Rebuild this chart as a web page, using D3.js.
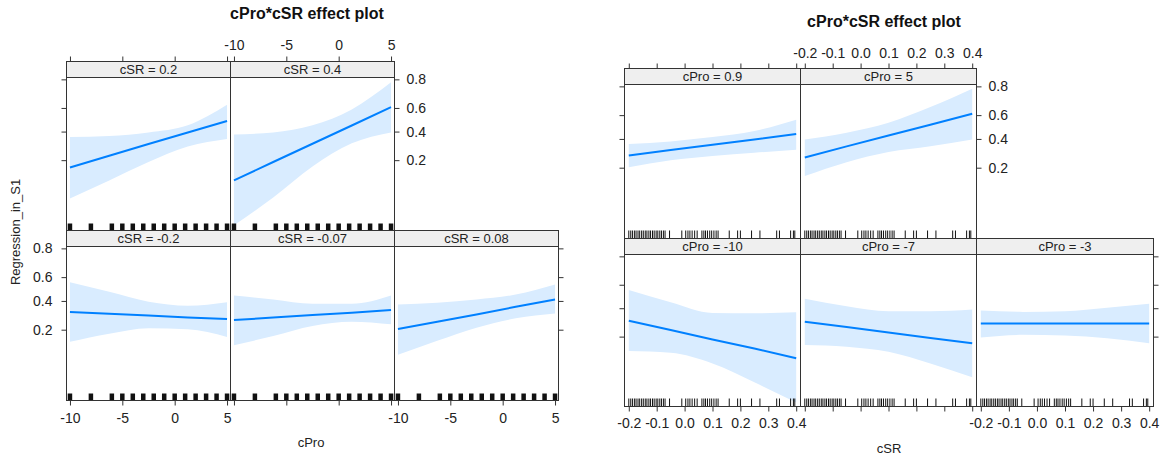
<!DOCTYPE html>
<html lang="en">
<head>
<meta charset="UTF-8">
<title>cPro*cSR effect plots</title>
<script src="https://cdn.jsdelivr.net/npm/d3@7"></script>
<style>
  body { margin: 0; background: #fff; }
  svg { display: block; font-family: "Liberation Sans", Arial, sans-serif; }
  .tick text { font-size: 14px; fill: #222; }
  .tick line { stroke: #333; }
  .strip text { font-size: 13px; fill: #222; }
</style>
</head>
<body>
<svg id="chart" width="1171" height="460"></svg>
<script>
const cProGrid = [-10, -6.25, -2.5, 1.25, 5];
const cSRGrid = [-0.2, -0.05, 0.1, 0.25, 0.4];

// left plot: x = cPro, one panel per cSR level
const cSRLevels = ["cSR = 0.2", "cSR = 0.4", "cSR = -0.2", "cSR = -0.07", "cSR = 0.08"];
const fitByCSR = [
  [0.163, 0.225, 0.303, 0.393, 0.490],
  [0.111, 0.190, 0.305, 0.451, 0.607],
  [0.313, 0.301, 0.289, 0.275, 0.264],
  [0.258, 0.274, 0.292, 0.309, 0.328],
  [0.204, 0.247, 0.296, 0.353, 0.412]
];
const lowerByCSR = [
  [0.063, 0.111, 0.190, 0.285, 0.340],
  [0.026, 0.065, 0.168, 0.308, 0.393],
  [0.142, 0.179, 0.208, 0.202, 0.163],
  [0.128, 0.168, 0.221, 0.247, 0.231],
  [0.096, 0.146, 0.211, 0.269, 0.303]
];
const upperByCSR = [
  [0.356, 0.364, 0.393, 0.453, 0.626],
  [0.377, 0.393, 0.453, 0.588, 0.783],
  [0.557, 0.476, 0.393, 0.361, 0.390],
  [0.445, 0.412, 0.377, 0.377, 0.445],
  [0.371, 0.385, 0.412, 0.453, 0.538]
];

// right plot: x = cSR, one panel per cPro level
const cProLevels = ["cPro = 0.9", "cPro = 5", "cPro = -10", "cPro = -7", "cPro = -3"];
const fitByCPro = [
  [0.275, 0.313, 0.353, 0.396, 0.441],
  [0.262, 0.341, 0.428, 0.520, 0.612],
  [0.302, 0.239, 0.185, 0.142, 0.106],
  [0.295, 0.258, 0.224, 0.193, 0.166],
  [0.283, 0.283, 0.283, 0.283, 0.283]
];
const lowerByCPro = [
  [0.203, 0.243, 0.271, 0.294, 0.316],
  [0.158, 0.232, 0.299, 0.341, 0.396],
  [0.132, 0.125, 0.090, 0.049, 0.025],
  [0.158, 0.150, 0.129, 0.090, 0.058],
  [0.195, 0.210, 0.206, 0.191, 0.166]
];
const upperByCPro = [
  [0.359, 0.380, 0.415, 0.466, 0.562],
  [0.396, 0.452, 0.537, 0.664, 0.787],
  [0.556, 0.451, 0.362, 0.359, 0.367],
  [0.480, 0.417, 0.375, 0.375, 0.389],
  [0.381, 0.370, 0.375, 0.403, 0.437]
];

// ticks and rugs
const probTicks = [0.2, 0.4, 0.6, 0.8];
const cProTicks = [-10, -5, 0, 5];
const cSRTicks = [-0.2, -0.1, 0.0, 0.1, 0.2, 0.3, 0.4];
const cProRug = [-10, -8, -6, -5, -4, -3, -2, -1, 0, 1, 2, 3, 4, 5];
const cSRRug = [-0.2, -0.193, -0.187, -0.18, -0.174, -0.167, -0.161, -0.154, -0.148, -0.141,
  -0.135, -0.128, -0.122, -0.115, -0.109, -0.102, -0.096, -0.089, -0.083, -0.076, -0.07,
  -0.054, -0.01, 0.004, 0.012, 0.019, 0.027, 0.036, 0.045, 0.062, 0.069, 0.075, 0.082,
  0.09, 0.097, 0.105, 0.113, 0.12, 0.16, 0.19, 0.2, 0.24, 0.27, 0.33, 0.34, 0.38, 0.39, 0.395];

const svg = d3.select("#chart");
const logit = p => Math.log(p / (1 - p));
const lineColor = "#0080ff";
const bandColor = "#d9ecff";
const frameColor = "#333";

// row 0 holds two panels, row 1 holds three
const slots = [[0, 0], [1, 0], [0, 1], [1, 1], [2, 1]];

function effectPlot(opt) {
    const g = svg.append("g");
    const yBase = d3.scaleLinear().domain([-3.8, 1.45]);
    const xBase = d3.scaleLinear().domain(opt.xDomain);

    opt.strips.forEach((label, i) => {
        const [c, r] = slots[i];
        const x0 = opt.cols[c], x1 = opt.cols[c + 1];
        const row = opt.rows[r];
        const xs = xBase.copy().range([x0, x1]);
        const ys = yBase.copy().range([row.bottom, row.top]);
        const p = g.append("g");

        const pts = opt.grid.map((v, k) => ({
            x: v, fit: opt.fit[i][k], lo: opt.lower[i][k], hi: opt.upper[i][k]
        }));

        // confidence band
        p.append("path").datum(pts)
            .attr("fill", bandColor)
            .attr("d", d3.area()
                .curve(d3.curveMonotoneX)
                .x(d => xs(d.x))
                .y0(d => ys(logit(d.lo)))
                .y1(d => ys(logit(d.hi))));

        // fitted line
        p.append("path").datum(pts)
            .attr("fill", "none")
            .attr("stroke", lineColor)
            .attr("stroke-width", 2)
            .attr("d", d3.line().x(d => xs(d.x)).y(d => ys(logit(d.fit))));

        // rug
        p.append("g").selectAll("line").data(opt.rug).join("line")
            .attr("x1", d => xs(d)).attr("x2", d => xs(d))
            .attr("y1", row.bottom).attr("y2", row.bottom - opt.rugLen)
            .attr("stroke", "#111")
            .attr("stroke-width", opt.rugWidth);

        // strip
        const strip = p.append("g").attr("class", "strip");
        strip.append("rect")
            .attr("x", x0).attr("y", row.strip)
            .attr("width", x1 - x0).attr("height", row.top - row.strip)
            .attr("fill", "#efefef").attr("stroke", frameColor);
        strip.append("text")
            .attr("x", (x0 + x1) / 2)
            .attr("y", (row.strip + row.top) / 2 + 4.6)
            .attr("text-anchor", "middle")
            .text(label);

        // panel frame
        p.append("rect")
            .attr("x", x0).attr("y", row.top)
            .attr("width", x1 - x0).attr("height", row.bottom - row.top)
            .attr("fill", "none").attr("stroke", frameColor);

        // axes
        const yTicks = probTicks.map(logit);
        const yFmt = d => (1 / (1 + Math.exp(-d))).toFixed(1);

        if (r === 0) {
            p.append("g").attr("transform", `translate(0,${row.strip})`)
                .call(d3.axisTop(xs).tickValues(opt.xTicks).tickSize(5)
                    .tickPadding(opt.padTop).tickFormat(c === 1 ? opt.xFmt : ""))
                .call(a => a.select(".domain").remove());
        } else {
            p.append("g").attr("transform", `translate(0,${row.bottom})`)
                .call(d3.axisBottom(xs).tickValues(opt.xTicks).tickSize(5)
                    .tickPadding(opt.padBottom).tickFormat(c === 1 ? "" : opt.xFmt))
                .call(a => a.select(".domain").remove());
        }
        if (c === 0) {
            p.append("g").attr("transform", `translate(${x0},0)`)
                .call(d3.axisLeft(ys).tickValues(yTicks).tickSize(5).tickPadding(9)
                    .tickFormat(r === 1 && opt.leftLabels ? yFmt : ""))
                .call(a => a.select(".domain").remove());
        }
        if ((r === 0 && c === 1) || (r === 1 && c === 2)) {
            p.append("g").attr("transform", `translate(${x1},0)`)
                .call(d3.axisRight(ys).tickValues(yTicks).tickSize(5).tickPadding(7)
                    .tickFormat(r === 0 ? yFmt : ""))
                .call(a => a.select(".domain").remove());
        }
    });

    // titles
    g.append("text")
        .attr("x", opt.titlePos[0]).attr("y", opt.titlePos[1])
        .attr("text-anchor", "middle")
        .attr("font-size", 16).attr("font-weight", "bold").attr("fill", "#111")
        .text("cPro*cSR effect plot");
    g.append("text")
        .attr("x", opt.xTitlePos[0]).attr("y", opt.xTitlePos[1])
        .attr("text-anchor", "middle")
        .attr("font-size", 13).attr("fill", "#222")
        .text(opt.xTitle);
    if (opt.yTitle) {
        g.append("text")
            .attr("transform", `translate(${opt.yTitlePos[0]},${opt.yTitlePos[1]}) rotate(-90)`)
            .attr("text-anchor", "middle")
            .attr("font-size", 13).attr("fill", "#222")
            .text(opt.yTitle);
    }
}

effectPlot({
    strips: cSRLevels, fit: fitByCSR, lower: lowerByCSR, upper: upperByCSR,
    grid: cProGrid, xDomain: [-10.33, 5.33], xTicks: cProTicks, xFmt: d => String(d),
    rug: cProRug, rugLen: 7, rugWidth: 4.5,
    cols: [66.5, 230.5, 394.5, 558.5],
    rows: [{strip: 61.5, top: 77.5, bottom: 230.5}, {strip: 230.5, top: 246.5, bottom: 400.5}],
    padTop: 7, padBottom: 8, leftLabels: true,
    titlePos: [307, 19], xTitle: "cPro", xTitlePos: [311, 447],
    yTitle: "Regression_in_S1", yTitlePos: [20, 232]
});

effectPlot({
    strips: cProLevels, fit: fitByCPro, lower: lowerByCPro, upper: upperByCPro,
    grid: cSRGrid, xDomain: [-0.2154, 0.4154], xTicks: cSRTicks, xFmt: d => d.toFixed(1),
    rug: cSRRug, rugLen: 8, rugWidth: 1,
    cols: [624.5, 800.5, 976.5, 1153.5],
    rows: [{strip: 68.5, top: 84.5, bottom: 238.5}, {strip: 238.5, top: 254.5, bottom: 406.5}],
    padTop: 6, padBottom: 7, leftLabels: false,
    titlePos: [884, 27], xTitle: "cSR", xTitlePos: [889, 453]
});
</script>
</body>
</html>
